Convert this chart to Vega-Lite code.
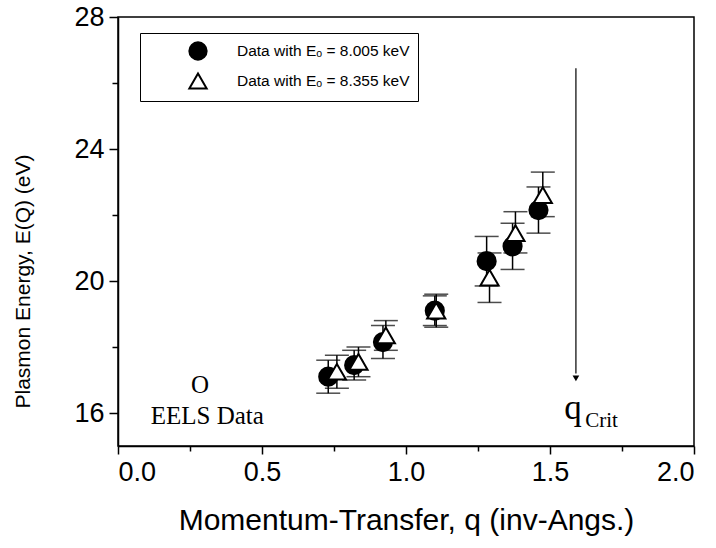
{
  "$schema": "https://vega.github.io/schema/vega-lite/v6.json",
  "width": 576,
  "height": 429,
  "autosize": {"type": "none"},
  "padding": {"left": 118, "top": 17, "right": 22, "bottom": 102},
  "background": "white",
  "config": {
    "view": {"stroke": "black", "strokeWidth": 1.5},
    "font": "Liberation Sans",
    "axis": {
      "domainColor": "black", "domainWidth": 1.5, "tickColor": "black", "tickWidth": 1.5,
      "labelColor": "black", "titleColor": "black", "grid": false,
      "labelFont": "Liberation Sans", "titleFont": "Liberation Sans",
      "labelFontSize": 27, "titleFontWeight": "normal"
    }
  },
  "datasets": {
    "pts": [
      {"series": "Data with Eₒ = 8.005 keV", "q": 0.73, "E": 17.1, "lo": 16.6, "hi": 17.6},
      {"series": "Data with Eₒ = 8.005 keV", "q": 0.82, "E": 17.45, "lo": 17.0, "hi": 17.9},
      {"series": "Data with Eₒ = 8.005 keV", "q": 0.92, "E": 18.15, "lo": 17.65, "hi": 18.65},
      {"series": "Data with Eₒ = 8.005 keV", "q": 1.10, "E": 19.1, "lo": 18.65, "hi": 19.55},
      {"series": "Data with Eₒ = 8.005 keV", "q": 1.28, "E": 20.6, "lo": 19.85, "hi": 21.35},
      {"series": "Data with Eₒ = 8.005 keV", "q": 1.37, "E": 21.05, "lo": 20.35, "hi": 21.75},
      {"series": "Data with Eₒ = 8.005 keV", "q": 1.46, "E": 22.15, "lo": 21.45, "hi": 22.85},
      {"series": "Data with Eₒ = 8.355 keV", "q": 0.76, "E": 17.25, "lo": 16.75, "hi": 17.75},
      {"series": "Data with Eₒ = 8.355 keV", "q": 0.835, "E": 17.55, "lo": 17.1, "hi": 18.0},
      {"series": "Data with Eₒ = 8.355 keV", "q": 0.93, "E": 18.35, "lo": 17.9, "hi": 18.8},
      {"series": "Data with Eₒ = 8.355 keV", "q": 1.105, "E": 19.1, "lo": 18.6, "hi": 19.6},
      {"series": "Data with Eₒ = 8.355 keV", "q": 1.29, "E": 20.1, "lo": 19.35, "hi": 20.85},
      {"series": "Data with Eₒ = 8.355 keV", "q": 1.38, "E": 21.45, "lo": 20.85, "hi": 22.1},
      {"series": "Data with Eₒ = 8.355 keV", "q": 1.475, "E": 22.6, "lo": 21.95, "hi": 23.3}
    ],
    "arrow": [{"q": 1.59, "top": 26.45, "bottom": 17.2, "tip": 17.05}],
    "notes": [
      {"q": 0.285, "E": 16.85, "text": "O", "size": 25, "align": "center"},
      {"q": 0.31, "E": 15.9, "text": "EELS Data", "size": 25, "align": "center"},
      {"q": 1.58, "E": 16.15, "text": "q", "size": 35, "align": "center"},
      {"q": 1.622, "E": 15.75, "text": "Crit", "size": 21, "align": "left"}
    ]
  },
  "resolve": {"axis": {"x": "independent", "y": "independent"}},
  "layer": [
    {
      "data": {"name": "pts"},
      "mark": {"type": "rule", "color": "black", "strokeWidth": 1.5},
      "encoding": {
        "x": {"field": "q", "type": "quantitative", "scale": {"domain": [0, 2]},
              "axis": {"orient": "bottom", "values": [0.25, 0.75, 1.25, 1.75], "labels": false, "tickSize": 5, "title": null, "domain": false}},
        "y": {"field": "lo", "type": "quantitative", "scale": {"domain": [15, 28]},
              "axis": {"orient": "left", "values": [18, 22, 26], "labels": false, "tickSize": 6, "title": null, "domain": false}},
        "y2": {"field": "hi"}
      }
    },
    {
      "data": {"name": "pts"},
      "mark": {"type": "tick", "orient": "horizontal", "color": "black", "size": 24, "thickness": 1.5},
      "encoding": {
        "x": {"field": "q", "type": "quantitative", "axis": null},
        "y": {"field": "hi", "type": "quantitative", "axis": null}
      }
    },
    {
      "data": {"name": "pts"},
      "mark": {"type": "tick", "orient": "horizontal", "color": "black", "size": 24, "thickness": 1.5},
      "encoding": {
        "x": {"field": "q", "type": "quantitative", "axis": null},
        "y": {"field": "lo", "type": "quantitative", "axis": null}
      }
    },
    {
      "data": {"name": "pts"},
      "mark": {"type": "point", "filled": true, "strokeWidth": 2, "size": 330, "opacity": 1, "fillOpacity": 1, "strokeOpacity": 1},
      "encoding": {
        "x": {"field": "q", "type": "quantitative",
              "axis": {"orient": "bottom", "values": [0, 0.5, 1, 1.5, 2], "format": ".1f", "tickSize": 8, "labelPadding": 5,
                       "title": "Momentum-Transfer, q (inv-Angs.)", "titleFontSize": 30, "titlePadding": 20}},
        "y": {"field": "E", "type": "quantitative",
              "axis": {"orient": "left", "values": [16, 20, 24, 28], "tickSize": 9, "labelPadding": 5,
                       "title": "Plasmon Energy, E(Q) (eV)", "titleFontSize": 21,
                       "titleX": -95, "titleY": 264, "titleAngle": -90, "titleBaseline": "middle", "titleAlign": "center"}},
        "shape": {"field": "series", "type": "nominal",
                  "scale": {"domain": ["Data with Eₒ = 8.005 keV", "Data with Eₒ = 8.355 keV"], "range": ["circle", "triangle-up"]},
                  "legend": {"orient": "none", "legendX": 22, "legendY": 16, "title": null, "strokeColor": "black",
                             "padding": 8, "symbolOffset": 40, "labelOffset": 29, "labelFontSize": 15.5, "labelFont": "Liberation Sans",
                             "labelLimit": 400, "labelColor": "black", "symbolSize": 300, "symbolStrokeWidth": 2,
                             "rowPadding": 5, "fillColor": "white"}},
        "fill": {"field": "series", "type": "nominal",
                 "scale": {"domain": ["Data with Eₒ = 8.005 keV", "Data with Eₒ = 8.355 keV"], "range": ["black", "white"]}},
        "stroke": {"field": "series", "type": "nominal",
                   "scale": {"domain": ["Data with Eₒ = 8.005 keV", "Data with Eₒ = 8.355 keV"], "range": ["black", "black"]}}
      }
    },
    {
      "data": {"name": "arrow"},
      "mark": {"type": "rule", "color": "black", "strokeWidth": 1.2},
      "encoding": {
        "x": {"field": "q", "type": "quantitative", "axis": null},
        "y": {"field": "top", "type": "quantitative", "axis": null},
        "y2": {"field": "bottom"}
      }
    },
    {
      "data": {"name": "arrow"},
      "mark": {"type": "point", "shape": "triangle-down", "filled": true, "color": "black", "size": 45, "opacity": 1},
      "encoding": {
        "x": {"field": "q", "type": "quantitative", "axis": null},
        "y": {"field": "tip", "type": "quantitative", "axis": null}
      }
    },
    {
      "data": {"name": "notes"},
      "transform": [{"filter": "datum.align == 'center'"}],
      "mark": {"type": "text", "font": "Liberation Serif", "color": "black", "align": "center", "baseline": "middle"},
      "encoding": {
        "x": {"field": "q", "type": "quantitative", "axis": null},
        "y": {"field": "E", "type": "quantitative", "axis": null},
        "text": {"field": "text"},
        "size": {"field": "size", "type": "quantitative", "scale": null}
      }
    },
    {
      "data": {"name": "notes"},
      "transform": [{"filter": "datum.align == 'left'"}],
      "mark": {"type": "text", "font": "Liberation Serif", "color": "black", "align": "left", "baseline": "middle"},
      "encoding": {
        "x": {"field": "q", "type": "quantitative", "axis": null},
        "y": {"field": "E", "type": "quantitative", "axis": null},
        "text": {"field": "text"},
        "size": {"field": "size", "type": "quantitative", "scale": null}
      }
    }
  ]
}
